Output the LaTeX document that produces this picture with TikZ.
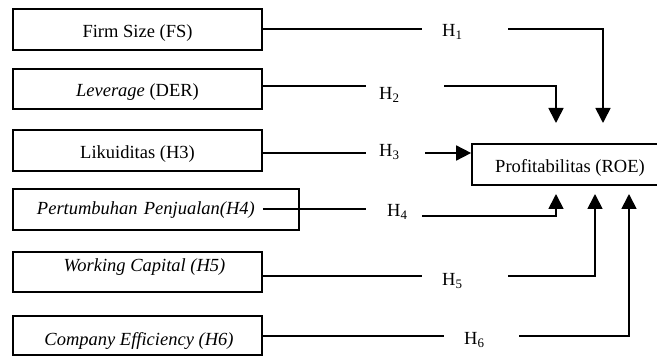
\documentclass[tikz,border=0pt]{standalone}
\usepackage{fontspec}
\setmainfont{Liberation Serif}
\usetikzlibrary{arrows.meta}
\begin{document}
\begin{tikzpicture}[x=1pt,y=-1pt,
  txt/.style={font=\fontsize{18.5}{22}\selectfont},
  box/.style={txt, draw, line width=1.7pt, inner sep=0pt, minimum width=249pt, minimum height=41pt, text height=20pt, text depth=4pt},
  conn/.style={line width=1.7pt},
  arr/.style={conn, -{Triangle[width=15pt,length=15pt]}},
  hyp/.style={txt, anchor=base west, inner sep=0pt}]
\useasboundingbox (0,0) rectangle (657,358);
\clip (0,0) rectangle (657,358);
% input boxes
\node[box] (fs) at (137.5,29.5) {Firm Size (FS)};
\node[box, minimum height=40pt] (lev) at (137.5,89) {\textit{Leverage} (DER)};
\node[box] (lik) at (137.5,150.5) {Likuiditas (H3)};
\node[box, minimum width=286pt, minimum height=41pt, text width=238pt, inner xsep=24pt, align=left, text height=15pt] (pp) at (156,209.5) {\textit{Pertumbuhan Penjualan(H4)}};
\node[box, minimum height=40pt, text height=6pt, text depth=6pt] (wc) at (137.5,272) {\hspace{14pt}\textit{Working Capital (H5)}};
\node[box, minimum height=39pt, text height=25pt] (ce) at (137.5,335.5) {\hspace{3pt}\textit{Company Efficiency (H6)}};
% target box
\node[box, minimum width=196pt] (roe) at (570,164.5) {Profitabilitas (ROE)};
% hypothesis labels
\node[hyp] (h1) at (442,37) {H\textsubscript{1}};
\node[hyp] (h2) at (379,100) {H\textsubscript{2}};
\node[hyp] (h3) at (379,157) {H\textsubscript{3}};
\node[hyp] (h4) at (387,217) {H\textsubscript{4}};
\node[hyp] (h5) at (442,286) {H\textsubscript{5}};
\node[hyp] (h6) at (464,345) {H\textsubscript{6}};
% connector points
\coordinate (a1) at (422,29);  \coordinate (b1) at (508,29);  \coordinate (t1) at (603,123);
\coordinate (a2) at (366,86);  \coordinate (b2) at (444,86);  \coordinate (t2) at (556,123);
\coordinate (a3) at (366,153); \coordinate (b3) at (425,153);
\coordinate (a4) at (366,209); \coordinate (b4) at (422,216); \coordinate (t4) at (556,194);
\coordinate (a5) at (422,276); \coordinate (b5) at (508,276); \coordinate (t5) at (595,194);
\coordinate (a6) at (444,336); \coordinate (b6) at (519,336); \coordinate (t6) at (629,194);
% connectors
\draw[conn] (fs.east |- a1) -- (a1);
\draw[arr] (b1) -| (t1);
\draw[conn] (lev.east |- a2) -- (a2);
\draw[arr] (b2) -| (t2);
\draw[conn] (lik.east |- a3) -- (a3);
\draw[arr] (b3) -- (roe.west |- b3);
\draw[conn] ([xshift=-37pt]pp.east |- a4) -- (a4);
\draw[arr] (b4) -| (t4);
\draw[conn] (wc.east |- a5) -- (a5);
\draw[arr] (b5) -| (t5);
\draw[conn] (ce.east |- a6) -- (a6);
\draw[arr] (b6) -| (t6);
\end{tikzpicture}
\end{document}
